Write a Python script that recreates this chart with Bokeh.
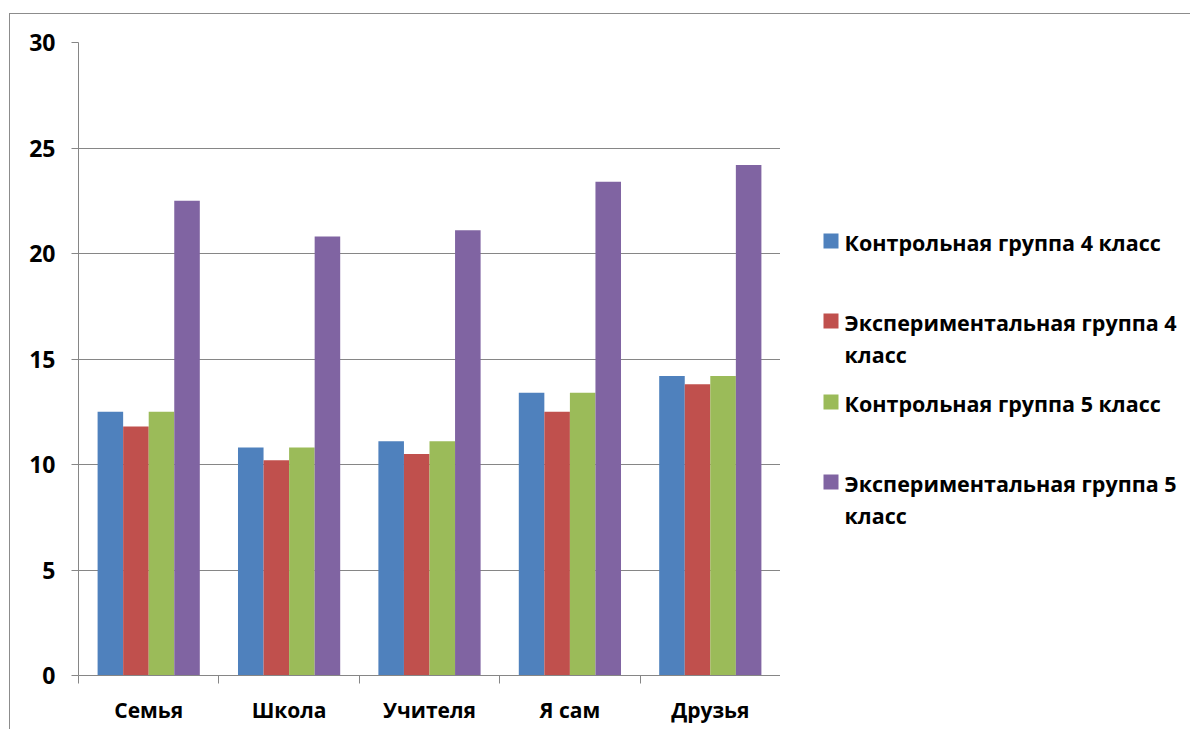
import numpy as np
from bokeh.plotting import figure
from bokeh.layouts import row
from bokeh.models import ColumnDataSource, FixedTicker, LinearAxis, Range1d
from bokeh.core.properties import value
from bokeh.transform import dodge
from bokeh.embed import file_html
from bokeh.resources import INLINE

categories = ["Семья", "Школа", "Учителя", "Я сам", "Друзья"]
legend_lines = [["Контрольная группа 4 класс"],
                ["Экспериментальная группа 4", "класс"],
                ["Контрольная группа 5 класс"],
                ["Экспериментальная группа 5", "класс"]]
control4 = [12.5, 10.8, 11.1, 13.4, 14.2]
exper4 = [11.8, 10.2, 10.5, 12.5, 13.8]
control5 = [12.5, 10.8, 11.1, 13.4, 14.2]
exper5 = [22.5, 20.8, 21.1, 23.4, 24.2]
y_ticks = [0, 5, 10, 15, 20, 25, 30]

colors = ["#4F81BD", "#C0504D", "#9BBB59", "#8064A2"]
FONT = "Open Sans"
GRID = "#868686"

n = len(categories)
src = ColumnDataSource(dict(x=np.arange(n) + 0.5, s0=control4, s1=exper4, s2=control5, s3=exper5))

FW, FH, BL, BT, BB = 702, 633, 68, 28, 54
p = figure(frame_width=FW, frame_height=FH, min_border_left=BL, min_border_top=BT,
           min_border_right=0, min_border_bottom=BB,
           x_range=Range1d(0, n), y_range=Range1d(0, 30),
           output_backend="svg", toolbar_location=None, x_axis_location=None)
p.outline_line_color = None
p.border_fill_color = "white"

w = 0.182
offsets = [-1.5 * w, -0.5 * w, 0.5 * w, 1.5 * w]
for i, col in enumerate(["s0", "s1", "s2", "s3"]):
    p.vbar(x=dodge("x", offsets[i], range=p.x_range), top=col, width=w, bottom=0,
           source=src, fill_color=colors[i], line_color=None)

# y axis
p.yaxis.ticker = FixedTicker(ticks=y_ticks)
p.yaxis.axis_line_color = GRID
p.yaxis.major_tick_line_color = GRID
p.yaxis.major_tick_out = 7
p.yaxis.major_tick_in = 0
p.yaxis.minor_tick_line_color = None
p.yaxis.major_label_text_font = FONT
p.yaxis.major_label_text_font_style = "bold"
p.yaxis.major_label_text_font_size = "23px"
p.yaxis.major_label_text_color = "black"
p.yaxis.major_label_standoff = 16
p.ygrid.ticker = FixedTicker(ticks=y_ticks)
p.ygrid.grid_line_color = GRID
p.xgrid.grid_line_color = None

# x axis: boundary ticks
ax1 = LinearAxis(ticker=FixedTicker(ticks=list(range(n + 1))),
                 major_label_overrides={i: "" for i in range(n + 1)})
ax1.axis_line_color = GRID
ax1.major_tick_line_color = GRID
ax1.major_tick_out = 8
ax1.major_tick_in = 0
ax1.minor_tick_line_color = None
ax1.major_label_standoff = 0
ax1.major_label_text_font_size = "1px"
p.add_layout(ax1, "below")

# x axis: category labels
centers = list(np.arange(n) + 0.5)
ax2 = LinearAxis(ticker=FixedTicker(ticks=centers),
                 major_label_overrides={float(c): categories[i] for i, c in enumerate(centers)})
ax2.axis_line_color = None
ax2.major_tick_line_color = None
ax2.minor_tick_line_color = None
ax2.major_label_standoff = 6
ax2.major_label_text_font = FONT
ax2.major_label_text_font_style = "bold"
ax2.major_label_text_font_size = "21px"
ax2.major_label_text_color = "black"
p.add_layout(ax2, "below")

# legend panel: ranges set in page pixel coordinates (y downward)
LW = 410
X0 = 780
q = figure(frame_width=LW, frame_height=FH, min_border_left=0, min_border_right=0,
           min_border_top=BT, min_border_bottom=BB,
           x_range=Range1d(X0, X0 + LW), y_range=Range1d(675, 42),
           output_backend="svg", toolbar_location=None)
q.axis.visible = False
q.grid.visible = False
q.outline_line_color = None
q.border_fill_color = "white"

entry_y = [240.5, 320.5, 401.5, 481.5]
line_gap = 32
q.scatter(x=[830.5] * 4, y=entry_y, marker="square", size=15, fill_color=colors, line_color=None)
tx, ty, tt = [], [], []
for i, lines in enumerate(legend_lines):
    for j, ln in enumerate(lines):
        tx.append(844)
        ty.append(entry_y[i] + 1 + j * line_gap)
        tt.append(ln)
q.text(x=tx, y=ty, text=tt, text_baseline="middle", text_align="left",
       text_font=value(FONT), text_font_style="bold", text_font_size="21.5px", text_color="black")

layout = row(p, q, margin=(13, 0, 0, 9),
             styles={"border-top": "1px solid #8c8c8c", "border-left": "1px solid #8c8c8c"})

open("out.html", "w").write(file_html(layout, INLINE))
